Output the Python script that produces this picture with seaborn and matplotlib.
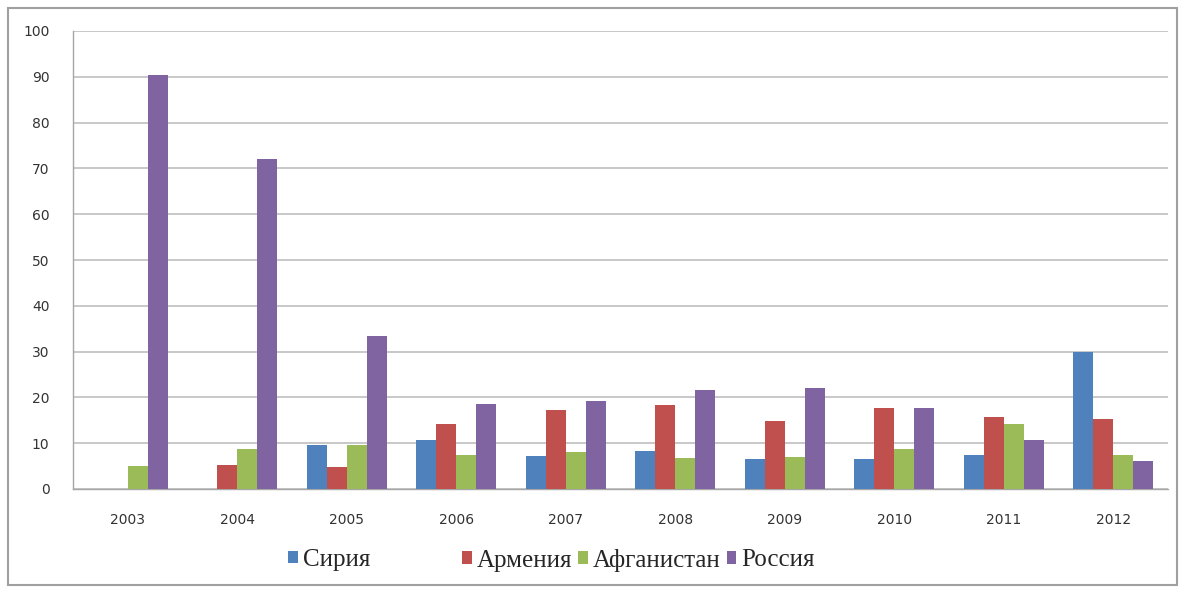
import matplotlib
matplotlib.use("Agg")
import matplotlib.pyplot as plt
from matplotlib.patches import Patch, Rectangle
import seaborn as sns
import pandas as pd
import numpy as np

years = ["2003", "2004", "2005", "2006", "2007", "2008", "2009", "2010", "2011", "2012"]
series_names = ["Сирия", "Армения", "Афганистан", "Россия"]
syria = [0, 0, 9.5, 10.7, 7.3, 8.3, 6.5, 6.6, 7.5, 30.0]
armenia = [0, 5.3, 4.7, 14.3, 17.2, 18.3, 14.8, 17.7, 15.7, 15.2]
afghanistan = [5.0, 8.8, 9.5, 7.5, 8.0, 6.7, 7.0, 8.8, 14.3, 7.5]
russia = [90.3, 72.0, 33.3, 18.5, 19.3, 21.7, 22.0, 17.7, 10.8, 6.2]
yticks = list(range(0, 101, 10))
colors = ["#4F81BD", "#C0504D", "#9BBB59", "#8064A2"]

rows = []
for name, vals in zip(series_names, [syria, armenia, afghanistan, russia]):
    for y, v in zip(years, vals):
        rows.append({"year": y, "value": v, "country": name})
df = pd.DataFrame(rows)

sns.set_style("white")
fig = plt.figure(figsize=(11.85, 5.89), dpi=100)
ax = fig.add_axes([73/1185, 1-489/589, (1168-73)/1185, (489-31)/589])

sns.barplot(data=df, x="year", y="value", hue="country", hue_order=series_names,
            order=years, palette=colors, width=0.73, gap=0, ax=ax,
            saturation=1, legend=False, linewidth=0, zorder=3)

ax.set_ylim(0, 100)
ax.set_xlim(-0.5, len(years) - 0.5)
ax.set_yticks(yticks)
ax.set_yticklabels([str(t) for t in yticks], fontsize=10, color="#333333")
ax.set_xticks(range(len(years)))
ax.set_xticklabels(years, fontsize=10, color="#333333")
ax.set_xticks(np.arange(-0.5, len(years)), minor=True)
ax.tick_params(axis="x", which="major", length=0, pad=17)
ax.tick_params(axis="x", which="minor", length=5, color="#A6A6A6", width=1)
ax.tick_params(axis="y", which="major", length=5, color="#A6A6A6", width=1, pad=12, direction="out")
ax.yaxis.grid(True, color="#BFBFBF", linewidth=1.2, zorder=0)
ax.set_axisbelow(True)
ax.set_xlabel("")
ax.set_ylabel("")
for s in ["top", "right"]:
    ax.spines[s].set_visible(False)
ax.spines["left"].set_color("#A6A6A6")
ax.spines["bottom"].set_color("#A6A6A6")
ax.spines["left"].set_linewidth(1)
ax.spines["bottom"].set_linewidth(1)

# outer chart border
fig.patches.append(Rectangle((8/1185, 4/589), (1177-8)/1185, (581-4)/589,
                             transform=fig.transFigure, fill=False,
                             edgecolor="#A0A0A0", linewidth=1.5))

handles = [Patch(facecolor=c, edgecolor="none") for c in colors]
leg_kw = dict(frameon=False, handlelength=0.38, handleheight=0.38, handletextpad=0.2,
              columnspacing=0.25, borderpad=0, borderaxespad=0,
              prop={"family": "Liberation Serif", "size": 18})
fig.legend(handles[:1], series_names[:1], loc="center left",
           bbox_to_anchor=(288/1185, 1-560/589), ncol=1, **leg_kw)
fig.legend(handles[1:], series_names[1:], loc="center left",
           bbox_to_anchor=(462/1185, 1-560/589), ncol=3, **leg_kw)

fig.savefig("out.png", dpi=100)
